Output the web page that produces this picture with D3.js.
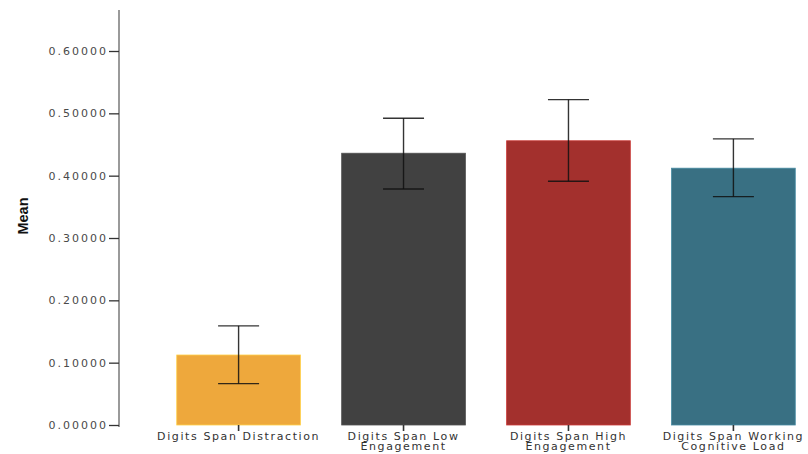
<!DOCTYPE html>
<html>
<head>
<meta charset="utf-8">
<script src="https://cdn.jsdelivr.net/npm/d3@7"></script>
<style>
  html, body { margin: 0; padding: 0; background: #fff; }
  svg { display: block; }
  .tick text { font-family: "DejaVu Sans", Verdana, sans-serif; }
</style>
</head>
<body>
<svg id="chart" width="808" height="454"></svg>
<script>
// Conditions and their means with error-bar limits
const categories = [
  ["Digits Span Distraction"],
  ["Digits Span Low", "Engagement"],
  ["Digits Span High", "Engagement"],
  ["Digits Span Working", "Cognitive Load"]
];
const means = [0.1123, 0.4360, 0.4560, 0.4120];
const errLow = [0.0663, 0.3786, 0.3910, 0.3663];
const errHigh = [0.1590, 0.4920, 0.5220, 0.4590];
const colors = ["#eea83c", "#414141", "#a3302d", "#397083"];
const yTicks = [0, 0.1, 0.2, 0.3, 0.4, 0.5, 0.6];

const svg = d3.select("#chart");

const x = d3.scaleBand()
  .domain(d3.range(categories.length))
  .range([135.5, 836.5])
  .paddingInner(0.25)
  .paddingOuter(0.25);

const y = d3.scaleLinear()
  .domain([0, 0.6])
  .range([425, 51]);

// Bars
svg.append("g").selectAll("rect")
  .data(means)
  .join("rect")
  .attr("x", (d, i) => x(i))
  .attr("y", d => y(d))
  .attr("width", x.bandwidth())
  .attr("height", d => y(0) - y(d))
  .attr("fill", (d, i) => colors[i])
  .attr("stroke", (d, i) => d3.color(colors[i]).brighter(0.6))
  .attr("stroke-width", 0.8);

// Error bars
const eb = svg.append("g")
  .attr("stroke", "#111")
  .attr("stroke-opacity", 0.85)
  .attr("stroke-width", 1.4);
const capHalf = 20.5;
means.forEach((m, i) => {
  const cx = x(i) + x.bandwidth() / 2;
  eb.append("line")
    .attr("x1", cx).attr("x2", cx)
    .attr("y1", y(errHigh[i])).attr("y2", y(errLow[i]));
  eb.append("line")
    .attr("x1", cx - capHalf).attr("x2", cx + capHalf)
    .attr("y1", y(errHigh[i])).attr("y2", y(errHigh[i]));
  eb.append("line")
    .attr("x1", cx - capHalf).attr("x2", cx + capHalf)
    .attr("y1", y(errLow[i])).attr("y2", y(errLow[i]));
});

// Y axis
const yAxis = svg.append("g")
  .attr("transform", "translate(119,0)")
  .call(d3.axisLeft(y)
    .tickValues(yTicks)
    .tickFormat(d3.format(".5f"))
    .tickSize(10)
    .tickPadding(1));
yAxis.select(".domain")
  .attr("d", `M0,10V${y(0) + 2}`)
  .attr("stroke", "#9a9a9a")
  .attr("stroke-width", 2);
yAxis.selectAll(".tick line")
  .attr("stroke", "#333")
  .attr("stroke-width", 1.3);
yAxis.selectAll(".tick text")
  .attr("fill", "#4a4a4a")
  .style("font-size", "11px")
  .style("letter-spacing", "2px");

// X axis: tick marks and category labels, no baseline
const xAxis = svg.append("g")
  .attr("transform", `translate(0,${y(0)})`)
  .call(d3.axisBottom(x).tickSize(6).tickPadding(2).tickFormat(""));
xAxis.select(".domain").remove();
xAxis.selectAll(".tick line")
  .attr("stroke", "#333")
  .attr("stroke-width", 1.6);
xAxis.selectAll(".tick text").remove();
xAxis.selectAll(".tick").each(function(d) {
  const t = d3.select(this).append("text")
    .attr("fill", "#333")
    .attr("text-anchor", "middle")
    .style("font-family", '"DejaVu Sans", Verdana, sans-serif')
    .style("font-size", "11px")
    .style("letter-spacing", "1.6px");
  categories[d].forEach((line, k) => {
    t.append("tspan")
      .attr("x", 0)
      .attr("y", 15 + k * 9.5)
      .text(line);
  });
});

// Y axis title
svg.append("text")
  .attr("transform", "translate(28,216) rotate(-90)")
  .attr("text-anchor", "middle")
  .attr("fill", "#111")
  .style("font-family", '"Liberation Sans", Arial, sans-serif')
  .style("font-weight", "bold")
  .style("font-size", "14.5px")
  .text("Mean");
</script>
</body>
</html>
